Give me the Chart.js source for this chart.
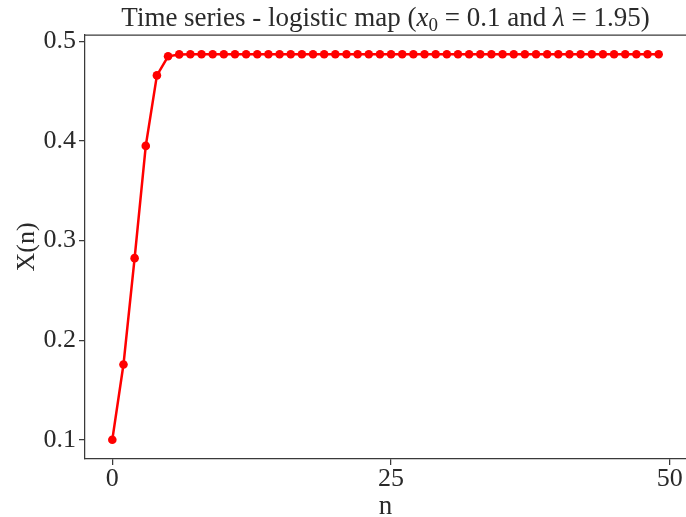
<!DOCTYPE html>
<html>
<head>
<meta charset="utf-8">
<script src="https://cdn.jsdelivr.net/npm/chart.js@4"></script>
<style>
  html, body { margin: 0; padding: 0; background: #fff; }
</style>
</head>
<body>
<canvas id="logisticChart" width="686" height="517"></canvas>
<script>
// iteration index n and the value X(n) of the logistic map
const steps = [0, 1, 2, 3, 4, 5, 6, 7, 8, 9,
  10, 11, 12, 13, 14, 15, 16, 17, 18, 19,
  20, 21, 22, 23, 24, 25, 26, 27, 28, 29,
  30, 31, 32, 33, 34, 35, 36, 37, 38, 39,
  40, 41, 42, 43, 44, 45, 46, 47, 48, 49];
const xValues = [0.1, 0.1755, 0.2824, 0.3952, 0.4660, 0.4852, 0.4871, 0.4872, 0.4872, 0.4872,
  0.4872, 0.4872, 0.4872, 0.4872, 0.4872, 0.4872, 0.4872, 0.4872, 0.4872, 0.4872,
  0.4872, 0.4872, 0.4872, 0.4872, 0.4872, 0.4872, 0.4872, 0.4872, 0.4872, 0.4872,
  0.4872, 0.4872, 0.4872, 0.4872, 0.4872, 0.4872, 0.4872, 0.4872, 0.4872, 0.4872,
  0.4872, 0.4872, 0.4872, 0.4872, 0.4872, 0.4872, 0.4872, 0.4872, 0.4872, 0.4872];

const xTicks = [0, 25, 50];
const yTicks = [0.1, 0.2, 0.3, 0.4, 0.5];

const serif = "'Liberation Serif', 'DejaVu Serif', serif";
const axisColor = "#3a3a3a";
const textColor = "#2a2a2a";

// title with italic symbols and a subscript, plus the top spine
const titleAndFrame = {
  id: "titleAndFrame",
  afterDraw(chart) {
    const ctx = chart.ctx;
    const area = chart.chartArea;

    ctx.save();
    ctx.strokeStyle = axisColor;
    ctx.lineWidth = 1.25;
    ctx.beginPath();
    ctx.moveTo(area.left, area.top);
    ctx.lineTo(area.right, area.top);
    ctx.stroke();

    const parts = [
      { text: "Time series - logistic map (", font: "27px " + serif, dy: 0 },
      { text: "x", font: "italic 27px " + serif, dy: 0 },
      { text: "0", font: "19px " + serif, dy: 5 },
      { text: " = 0.1 and ", font: "27px " + serif, dy: 0 },
      { text: "λ", font: "italic 27px " + serif, dy: 0 },
      { text: " = 1.95)", font: "27px " + serif, dy: 0 },
    ];
    let total = 0;
    parts.forEach(p => {
      ctx.font = p.font;
      p.w = ctx.measureText(p.text).width;
      total += p.w;
    });
    let x = (area.left + area.right) / 2 - total / 2;
    const baseline = 26;
    ctx.fillStyle = textColor;
    ctx.textBaseline = "alphabetic";
    ctx.textAlign = "left";
    parts.forEach(p => {
      ctx.font = p.font;
      ctx.fillText(p.text, x, baseline + p.dy);
      x += p.w;
    });
    ctx.restore();
  }
};

const config = {
  type: "line",
  data: {
    labels: steps,
    datasets: [
      {
        data: xValues,
        borderColor: "#ff0000",
        backgroundColor: "#ff0000",
        borderWidth: 2.5,
        pointRadius: 4.3,
        pointBorderWidth: 0,
        pointBackgroundColor: "#ff0000",
        tension: 0,
        clip: false,
      },
    ],
  },
  options: {
    responsive: false,
    animation: false,
    layout: {
      autoPadding: false,
      padding: { top: 35, right: 0, left: 0, bottom: 0 },
    },
    plugins: {
      legend: { display: false },
      tooltip: { enabled: false },
    },
    scales: {
      x: {
        type: "linear",
        min: -2.45,
        max: 51.45,
        afterBuildTicks: axis => { axis.ticks = xTicks.map(v => ({ value: v })); },
        afterFit: axis => {
          axis.height = 58;
          axis.paddingLeft = 0;
          axis.paddingRight = 0;
        },
        ticks: {
          color: textColor,
          font: { family: serif, size: 26 },
          padding: -1,
          maxRotation: 0,
        },
        grid: {
          drawOnChartArea: false,
          tickLength: 6,
          color: axisColor,
          lineWidth: 1.25,
        },
        border: { color: axisColor, width: 1.25 },
        title: {
          display: true,
          text: "n",
          color: textColor,
          font: { family: serif, size: 27, lineHeight: 1 },
          padding: { top: 0, bottom: -3 },
        },
      },
      y: {
        min: 0.0806,
        max: 0.5066,
        afterBuildTicks: axis => { axis.ticks = yTicks.map(v => ({ value: v })); },
        afterFit: axis => {
          axis.width = 85;
          axis.paddingTop = 0;
          axis.paddingBottom = 0;
        },
        ticks: {
          color: textColor,
          font: { family: serif, size: 26 },
          padding: 3,
          callback: v => v.toFixed(1),
        },
        grid: {
          drawOnChartArea: false,
          tickLength: 6,
          color: axisColor,
          lineWidth: 1.25,
        },
        border: { color: axisColor, width: 1.25 },
        title: {
          display: true,
          text: "X(n)",
          color: textColor,
          font: { family: serif, size: 26, lineHeight: 1 },
          padding: { top: 14, bottom: 0 },
        },
      },
    },
  },
  plugins: [titleAndFrame],
};

const ctxLine = document.getElementById("logisticChart").getContext("2d");
new Chart(ctxLine, config);
</script>
</body>
</html>
